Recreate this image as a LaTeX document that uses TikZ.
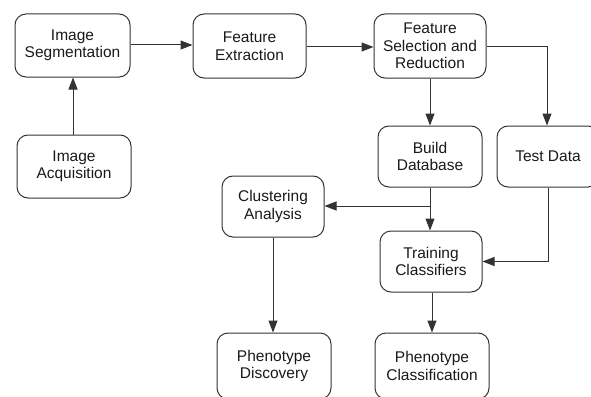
\documentclass[tikz,border=0pt]{standalone}
\usepackage{fontspec}
\setmainfont{Liberation Sans}
\usetikzlibrary{arrows.meta}
\begin{document}
\begin{tikzpicture}[x=1pt,y=-1pt,
  box/.style={draw=black!80, line width=1pt, rounded corners=11pt, align=center,
    inner sep=0pt, font=\fontsize{15.5}{17.5}\selectfont, text=black!90},
  conn/.style={draw=black!80, line width=1pt, -{Triangle[length=12pt,width=9pt]}}]
\useasboundingbox (0,0) rectangle (591,396);
\node[box, minimum width=115pt, minimum height=63pt] (seg) at (72.5,45.5) {Image\\Segmentation};
\node[box, minimum width=113pt, minimum height=64pt] (fe) at (249.5,46) {Feature\\Extraction};
\node[box, minimum width=112pt, minimum height=64pt] (fsr) at (430,46) {Feature\\Selection and\\Reduction};
\node[box, minimum width=114pt, minimum height=63pt] (acq) at (74,166.5) {Image\\Acquisition};
\node[box, minimum width=104pt, minimum height=61pt] (bd) at (430,156.5) {Build\\Database};
\node[box, minimum width=102pt, minimum height=61pt] (td) at (548,156.5) {Test Data};
\node[box, minimum width=102pt, minimum height=61pt] (cl) at (273,206.5) {Clustering\\Analysis};
\node[box, minimum width=102pt, minimum height=61pt] (tr) at (431,261.5) {Training\\Classifiers};
\node[box, minimum width=114pt, minimum height=66pt] (pd) at (274,366) {Phenotype\\Discovery};
\node[box, minimum width=114pt, minimum height=66pt] (pc) at (432,366) {Phenotype\\Classification};
\coordinate (br) at (430,206);
\draw[conn] (acq.north -| 73,0) -- (seg.south -| 73,0);
\draw[conn] (seg.east |- 0,45) -- (fe.west |- 0,45);
\draw[conn] (fe.east |- 0,47) -- (fsr.west |- 0,47);
\draw[conn] (fsr.south) -- (bd.north);
\draw[conn] (fsr.east |- 0,47) -| (td.north -| 547,0);
\draw[conn] (bd.south -| 430,0) -- (tr.north -| 430,0);
\draw[conn] (br) -- (cl.east |- br);
\draw[conn] (td.south) |- (tr.east);
\draw[conn] (cl.south) -- (pd.north -| cl.south);
\draw[conn] (tr.south -| 432,0) -- (pc.north -| 432,0);
\end{tikzpicture}
\end{document}
